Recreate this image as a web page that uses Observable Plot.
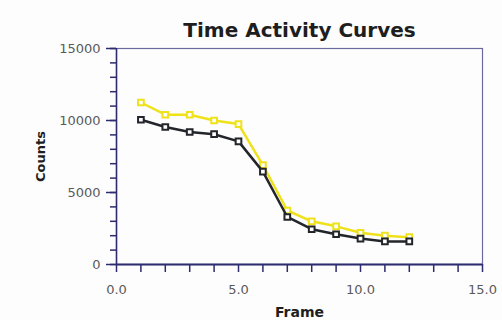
<!DOCTYPE html>
<html>
<head>
<meta charset="utf-8">
<script src="https://cdn.jsdelivr.net/npm/d3@7"></script>
<script src="https://cdn.jsdelivr.net/npm/@observablehq/plot@0.6"></script>
<style>
  html, body { margin: 0; padding: 0; background: #fdfdfd; }
  #chart svg { display: block; }
</style>
</head>
<body>
<div id="chart"></div>
<script>
const title = "Time Activity Curves";
const xLabel = "Frame";
const yLabel = "Counts";
const frames = [1, 2, 3, 4, 5, 6, 7, 8, 9, 10, 11, 12];
const yellowCounts = [11250, 10400, 10400, 10000, 9750, 6900, 3750, 3000, 2650, 2200, 2000, 1900];
const blackCounts = [10050, 9550, 9200, 9050, 8550, 6450, 3300, 2450, 2100, 1800, 1600, 1600];
const yMajorTicks = [0, 5000, 10000, 15000];
const yMinorTicks = d3.range(0, 15001, 1000);
const xMajorTicks = [0, 5, 10, 15];
const xMinorTicks = d3.range(0, 16, 1);

const yellowData = frames.map((f, i) => ({frame: f, counts: yellowCounts[i]}));
const blackData = frames.map((f, i) => ({frame: f, counts: blackCounts[i]}));

const axisColor = "#2c2c6e";
const labelColor = "#5a5a5a";
const yellow = "#efe21a";
const dark = "#22252a";

const chart = Plot.plot({
  width: 502,
  height: 320,
  marginLeft: 116,
  marginRight: 20,
  marginTop: 48,
  marginBottom: 56,
  style: {fontFamily: "DejaVu Sans", background: "#fdfdfd"},
  x: {domain: [0, 15], label: null},
  y: {domain: [0, 15000], label: null},
  marks: [
    Plot.frame({stroke: "#6a6aa0", strokeWidth: 1.2}),
    Plot.axisY({ticks: yMinorTicks, tickSize: 6, tickFormat: () => "", stroke: axisColor, strokeWidth: 1.5, label: null}),
    Plot.axisY({ticks: yMajorTicks, tickSize: 10, tickPadding: 6, tickFormat: d => String(d), stroke: axisColor, strokeWidth: 1.5, fill: labelColor, fontSize: 13, label: null}),
    Plot.axisX({ticks: xMinorTicks, tickSize: 8, tickFormat: () => "", stroke: axisColor, strokeWidth: 1.5, label: null}),
    Plot.axisX({ticks: xMajorTicks, tickSize: 0, tickPadding: 20, tickFormat: d => d.toFixed(1), fill: labelColor, fontSize: 13, label: null}),
    Plot.ruleY([0], {stroke: axisColor, strokeWidth: 2}),
    Plot.ruleX([0], {stroke: axisColor, strokeWidth: 1.5}),
    Plot.line(yellowData, {x: "frame", y: "counts", stroke: yellow, strokeWidth: 2.5}),
    Plot.dot(yellowData, {x: "frame", y: "counts", symbol: "square", r: 3.2, stroke: yellow, strokeWidth: 2, fill: "white"}),
    Plot.line(blackData, {x: "frame", y: "counts", stroke: dark, strokeWidth: 2.5}),
    Plot.dot(blackData, {x: "frame", y: "counts", symbol: "square", r: 3.2, stroke: dark, strokeWidth: 2, fill: "white"}),
    Plot.text([title], {frameAnchor: "top", dy: -26, fontSize: 20, fill: "#1e1e1e", fontWeight: "bold"}),
    Plot.text([xLabel], {frameAnchor: "bottom", dy: 52, fontSize: 14, fontWeight: "bold", fill: "#1e1e1e"}),
    Plot.text([yLabel], {frameAnchor: "left", textAnchor: "middle", dx: -76, rotate: -90, fontSize: 13, fontWeight: "bold", fill: "#1e1e1e"})
  ]
});
document.getElementById("chart").appendChild(chart);
</script>
</body>
</html>
